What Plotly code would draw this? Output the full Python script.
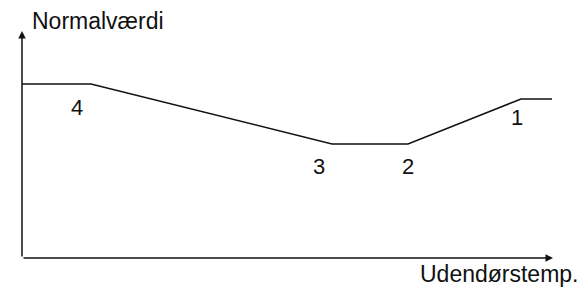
import plotly.graph_objects as go

# Data (arbitrary units, origin at axis corner)
curve_x = [0, 69, 310, 386, 499, 530]
curve_y = [174, 174, 114, 114, 159, 159]
point_labels = ["4", "3", "2", "1"]
label_x = [55, 297, 386, 495]
label_y = [151, 92, 92, 141]
y_title = "Normalværdi"
x_title = "Udendørstemp."

X_MAX = 531
Y_MAX = 227
FONT = "Liberation Sans, Arial, sans-serif"
W, H = 582, 287
ML, MR, MT, MB = 22, 29, 31, 29

fig = go.Figure()
fig.add_trace(go.Scatter(x=curve_x, y=curve_y, mode="lines",
                         line=dict(color="#111111", width=1.5),
                         hoverinfo="skip", showlegend=False))

ann = []
for t, x, y in zip(point_labels, label_x, label_y):
    ann.append(dict(x=x, y=y, text=t, showarrow=False, xref="x", yref="y",
                    font=dict(size=22, color="#111111", family=FONT)))
# axes as arrows
ann.append(dict(x=X_MAX, y=0, ax=0, ay=0, axref="x", ayref="y", xref="x", yref="y",
                text="", showarrow=True, arrowhead=2, arrowsize=1, arrowwidth=1.5,
                arrowcolor="#111111"))
ann.append(dict(x=0, y=Y_MAX, ax=0, ay=0, axref="x", ayref="y", xref="x", yref="y",
                text="", showarrow=True, arrowhead=2, arrowsize=1, arrowwidth=1.5,
                arrowcolor="#111111"))
# titles (paper refs with pixel shifts)
ann.append(dict(x=0, y=1, text=y_title, showarrow=False, xref="paper", yref="paper",
                xanchor="left", yanchor="middle", xshift=8, yshift=10,
                font=dict(size=23, color="#111111", family=FONT)))
ann.append(dict(x=1, y=0, text=x_title, showarrow=False, xref="paper", yref="paper",
                xanchor="right", yanchor="middle", xshift=28, yshift=-16,
                font=dict(size=23, color="#111111", family=FONT)))

fig.update_layout(
    width=W, height=H,
    margin=dict(l=ML, r=MR, t=MT, b=MB),
    paper_bgcolor="white", plot_bgcolor="white",
    xaxis=dict(range=[0, X_MAX], visible=False, fixedrange=True),
    yaxis=dict(range=[0, Y_MAX], visible=False, fixedrange=True),
    annotations=ann,
    showlegend=False,
)
fig.write_html("out.html", config={"displayModeBar": False},
               post_script="document.body.style.margin='0';document.body.style.overflow='hidden';")
